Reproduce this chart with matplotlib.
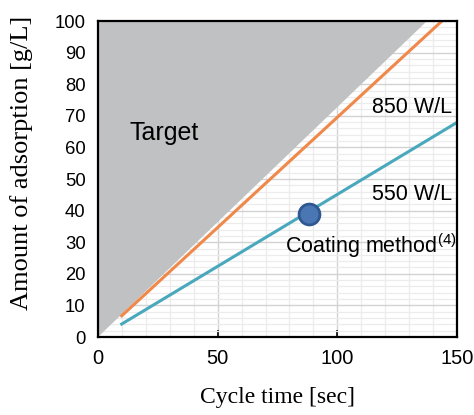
"""
    adsorption amount vs cycle time, target region and heater power lines
"""

import numpy as np
import matplotlib.pyplot as plt
from matplotlib.ticker import MultipleLocator

# target region boundary (gray polygon)
target_x = [0, 0, 137.5]
target_y = [0, 100, 100]

# 850 W/L line
x_850 = [9.9, 143.7]
y_850 = [6.7, 100]

# 550 W/L line
x_550 = [9.9, 150]
y_550 = [4.1, 67.9]

# coating method point
coat_x = [88]
coat_y = [39]

x_ticks = [0, 50, 100, 150]
y_ticks = np.arange(0, 101, 10)

fig = plt.figure(figsize=(4.74, 4.15), dpi=100)
ax = fig.add_axes([98 / 474, 1 - 337 / 415, 359 / 474, 316 / 415])

ax.fill(target_x, target_y, color="#c0c1c2", zorder=2, lw=0)
ax.plot(x_850, y_850, color="#f0884a", lw=2.2, zorder=3)
ax.plot(x_550, y_550, color="#4aa8bd", lw=2.2, zorder=3)
ax.plot(coat_x, coat_y, "o", ms=15, color="#4a76b4",
        markeredgecolor="#2f5790", markeredgewidth=2, zorder=4)

font = "Liberation Sans"
ax.text(13.1, 62.3, "Target", fontsize=18, family=font, zorder=5)
ax.text(148, 70.9, "850 W/L", fontsize=15.5, family=font, ha="right",
        zorder=5)
ax.text(148, 43.4, "550 W/L", fontsize=15.5, family=font, ha="right",
        zorder=5)
ax.text(78, 26.6, r"Coating method$^{\mathregular{(4)}}$", fontsize=15.5,
        family=font, zorder=5)

ax.set_xlim(0, 150)
ax.set_ylim(0, 100)
ax.set_xticks(x_ticks)
ax.set_yticks(y_ticks)
ax.xaxis.set_minor_locator(MultipleLocator(10))
ax.yaxis.set_minor_locator(MultipleLocator(2))
ax.grid(which="major", color="#d2d2d2", lw=1.0, zorder=0)
ax.grid(which="minor", color="#ececec", lw=0.9, zorder=0)
ax.set_axisbelow(True)

ax.tick_params(axis="x", which="major", direction="in", length=5, width=1.2,
               labelsize=14.5, pad=9)
ax.tick_params(axis="y", which="major", length=0, labelsize=13.3, pad=9)
ax.tick_params(which="minor", length=0)
for lab in ax.get_xticklabels() + ax.get_yticklabels():
    lab.set_family(font)
for sp in ax.spines.values():
    sp.set_linewidth(1.6)
    sp.set_color("black")
    sp.set_zorder(6)

ax.set_xlabel("Cycle time [sec]", fontsize=17, family="Liberation Serif",
              labelpad=13)
ax.set_ylabel("Amount of adsorption [g/L]", fontsize=19,
              family="Liberation Serif")
ax.yaxis.set_label_coords(-0.18, 0.55)

plt.savefig("out.png", dpi=100)
plt.close()
